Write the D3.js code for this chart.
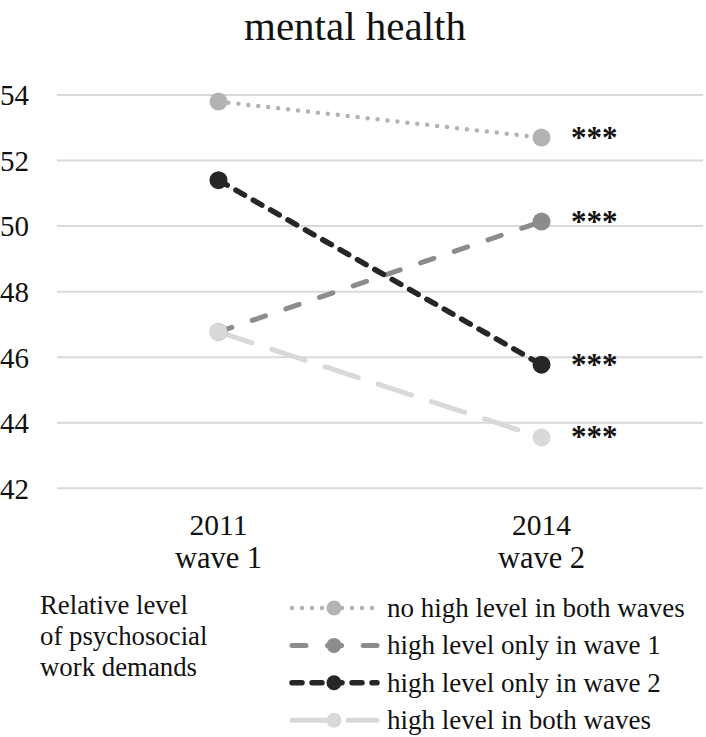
<!DOCTYPE html>
<html>
<head>
<meta charset="utf-8">
<script src="https://cdn.jsdelivr.net/npm/d3@7/dist/d3.min.js"></script>
<style>
  body { margin: 0; background: #fff; }
  svg { display: block; }
  text { font-family: "Liberation Serif", "Times New Roman", serif; fill: #111; }
</style>
</head>
<body>
<svg id="chart" width="706" height="737"></svg>
<script>
// ---- data ----
const title = "mental health";
const years = ["2011", "2014"];
const waves = ["wave 1", "wave 2"];
const yTicks = [42, 44, 46, 48, 50, 52, 54];
const seriesNames = [
  "no high level in both waves",
  "high level only in wave 1",
  "high level only in wave 2",
  "high level in both waves"
];
const noHighBoth   = [53.8, 52.7];
const highOnlyW1   = [46.77, 50.14];
const highOnlyW2   = [51.4, 45.77];
const highBoth     = [46.77, 43.55];
const significance = ["***", "***", "***", "***"];
const legendTitle = ["Relative level", "of psychosocial", "work demands"];

// ---- styles ----
const styles = [
  { color: "#b3b3b3", width: 4.5, dash: "0 10",    cap: "round" },
  { color: "#8c8c8c", width: 5,   dash: "14 21.6", cap: "round" },
  { color: "#262626", width: 5.5, dash: "10 10",   cap: "round" },
  { color: "#d9d9d9", width: 5,   dash: "35 21",   cap: "round" }
];
const seriesValues = [noHighBoth, highOnlyW1, highOnlyW2, highBoth];
const series = seriesNames.map((n, i) => ({ name: n, values: seriesValues[i], style: styles[i], sig: significance[i] }));

const svg = d3.select("#chart");

const x = d3.scalePoint().domain(years).range([57, 703]).padding(0.5);
const y = d3.scaleLinear().domain([42, 54]).range([488.3, 95]);

// title
svg.append("text").attr("x", 355).attr("y", 40)
  .attr("text-anchor", "middle").style("font-size", "41px").text(title);

// grid
svg.append("g").selectAll("line").data(yTicks).join("line")
  .attr("x1", 57).attr("x2", 703)
  .attr("y1", d => y(d)).attr("y2", d => y(d))
  .attr("stroke", "#d9d9d9").attr("stroke-width", 2);

// y axis labels
const yAxis = d3.axisLeft(y).tickValues(yTicks).tickSize(0).tickPadding(0);
const ya = svg.append("g").attr("transform", "translate(29,0)").call(yAxis);
ya.attr("font-family", null);
ya.select(".domain").remove();
ya.selectAll("text").style("font-size", "29px").style("font-family", "'Liberation Serif', serif")
  .attr("fill", "#111").attr("dy", "0.34em");

// x axis labels
const xg = svg.append("g");
years.forEach((yr, i) => {
  xg.append("text").attr("x", x(yr)).attr("y", 535).attr("text-anchor", "middle")
    .style("font-size", "29.5px").text(yr);
  xg.append("text").attr("x", x(yr)).attr("y", 568).attr("text-anchor", "middle")
    .style("font-size", "30.5px").text(waves[i]);
});

// lines
const line = d3.line().x((d, i) => x(years[i])).y(d => y(d));
svg.append("g").selectAll("path").data(series).join("path")
  .attr("d", d => line(d.values))
  .attr("fill", "none")
  .attr("stroke", d => d.style.color)
  .attr("stroke-width", d => d.style.width)
  .attr("stroke-dasharray", d => d.style.dash)
  .attr("stroke-linecap", d => d.style.cap);

// markers
series.forEach(s => {
  svg.append("g").selectAll("circle").data(s.values).join("circle")
    .attr("cx", (d, i) => x(years[i])).attr("cy", d => y(d))
    .attr("r", 9).attr("fill", s.style.color);
});

// significance stars
svg.append("g").selectAll("text").data(series).join("text")
  .attr("x", 571).attr("y", d => y(d.values[1]) + 10)
  .style("font-size", "31px").style("font-weight", "bold").text(d => d.sig);

// legend title
svg.append("g").selectAll("text").data(legendTitle).join("text")
  .attr("x", 40).attr("y", (d, i) => 614 + i * 31)
  .style("font-size", "26.8px").text(d => d);

// legend items
const lg = svg.append("g").selectAll("g").data(series).join("g")
  .attr("transform", (d, i) => `translate(0,${608 + i * 37.4})`);
lg.append("line").attr("x1", 292).attr("x2", 377).attr("y1", 0).attr("y2", 0)
  .attr("stroke", d => d.style.color)
  .attr("stroke-width", d => d.style.width)
  .attr("stroke-dasharray", d => d.style.dash)
  .attr("stroke-linecap", d => d.style.cap);
lg.append("circle").attr("cx", 334).attr("cy", 0).attr("r", 7.5).attr("fill", d => d.style.color);
lg.append("text").attr("x", 387).attr("y", 9).style("font-size", "27px").text(d => d.name);
</script>
</body>
</html>
